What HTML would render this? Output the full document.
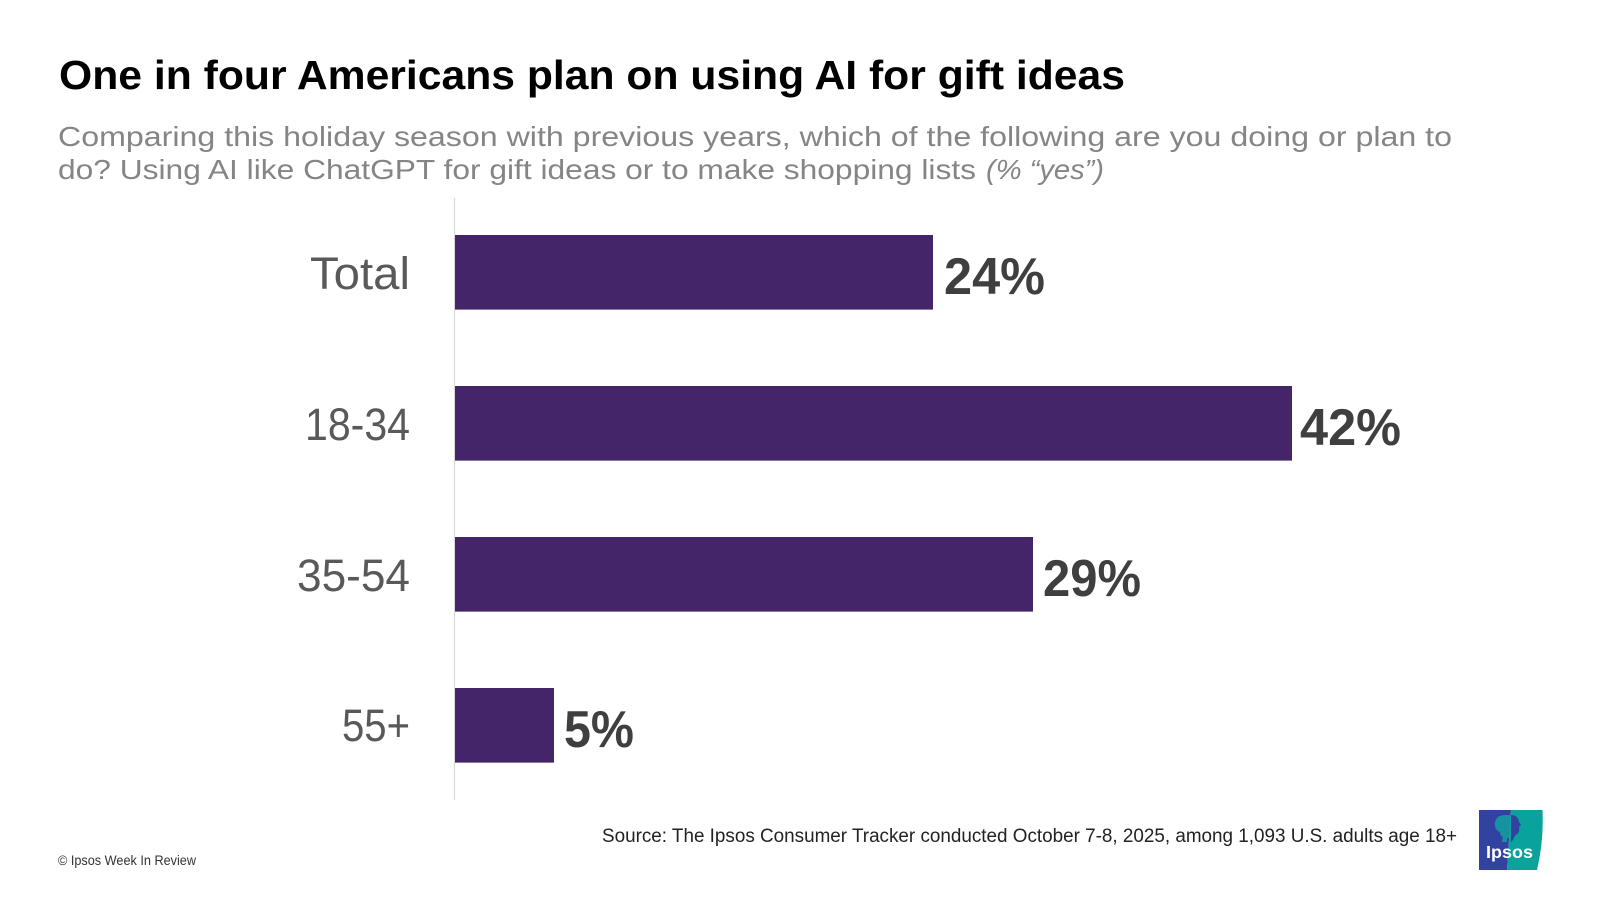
<!DOCTYPE html>
<html>
<head>
<meta charset="utf-8">
<style>
  html, body { margin: 0; padding: 0; background: #ffffff; }
  body { width: 1600px; height: 900px; overflow: hidden; }
  svg { display: block; }
  text { font-family: "Liberation Sans", "DejaVu Sans", sans-serif; }
</style>
</head>
<body>
<svg width="1600" height="900" viewBox="0 0 1600 900" xmlns="http://www.w3.org/2000/svg">
  <rect x="0" y="0" width="1600" height="900" fill="#ffffff"/>

  <!-- Title -->
  <text x="59" y="89" font-size="41" font-weight="bold" fill="#000000" textLength="1066" lengthAdjust="spacingAndGlyphs">One in four Americans plan on using AI for gift ideas</text>

  <!-- Subtitle -->
  <text x="58" y="146" font-size="28" fill="#858585" textLength="1394" lengthAdjust="spacingAndGlyphs">Comparing this holiday season with previous years, which of the following are you doing or plan to</text>
  <text x="58" y="179" font-size="28" fill="#858585" textLength="918" lengthAdjust="spacingAndGlyphs">do? Using AI like ChatGPT for gift ideas or to make shopping lists</text>
  <text x="986" y="179" font-size="28" font-style="italic" fill="#858585" textLength="118" lengthAdjust="spacingAndGlyphs">(% “yes”)</text>

  <!-- Axis line -->
  <line x1="454.5" y1="198" x2="454.5" y2="800" stroke="#d9d9d9" stroke-width="1.2"/>

  <!-- Bars -->
  <rect x="455" y="235" width="478" height="75" fill="#45256a"/>
  <rect x="455" y="309" width="478" height="1" fill="#8a7ba3"/>
  <rect x="455" y="386" width="837" height="75" fill="#45256a"/>
  <rect x="455" y="460" width="837" height="1" fill="#8a7ba3"/>
  <rect x="455" y="537" width="578" height="75" fill="#45256a"/>
  <rect x="455" y="611" width="578" height="1" fill="#8a7ba3"/>
  <rect x="455" y="688" width="99" height="75" fill="#45256a"/>
  <rect x="455" y="762" width="99" height="1" fill="#8a7ba3"/>

  <!-- Category labels -->
  <text x="410" y="289" font-size="45" fill="#595959" text-anchor="end" textLength="100" lengthAdjust="spacingAndGlyphs">Total</text>
  <text x="410" y="440" font-size="45" fill="#595959" text-anchor="end" textLength="105" lengthAdjust="spacingAndGlyphs">18-34</text>
  <text x="410" y="591" font-size="45" fill="#595959" text-anchor="end" textLength="113" lengthAdjust="spacingAndGlyphs">35-54</text>
  <text x="410" y="741" font-size="45" fill="#595959" text-anchor="end" textLength="68" lengthAdjust="spacingAndGlyphs">55+</text>

  <!-- Value labels -->
  <text x="944" y="294" font-size="52" font-weight="bold" fill="#3f3f3f" textLength="101" lengthAdjust="spacingAndGlyphs">24%</text>
  <text x="1300" y="445" font-size="52" font-weight="bold" fill="#3f3f3f" textLength="101" lengthAdjust="spacingAndGlyphs">42%</text>
  <text x="1043" y="596" font-size="52" font-weight="bold" fill="#3f3f3f" textLength="98" lengthAdjust="spacingAndGlyphs">29%</text>
  <text x="564" y="747" font-size="52" font-weight="bold" fill="#3f3f3f" textLength="70" lengthAdjust="spacingAndGlyphs">5%</text>

  <!-- Source -->
  <text x="602" y="842" font-size="19" fill="#222222" textLength="855" lengthAdjust="spacingAndGlyphs">Source: The Ipsos Consumer Tracker conducted  October 7-8, 2025, among 1,093 U.S. adults age 18+</text>

  <!-- Footer -->
  <text x="58" y="865" font-size="14" fill="#333333" textLength="138" lengthAdjust="spacingAndGlyphs">© Ipsos Week In Review</text>

  <!-- Ipsos logo -->
  <g>
    <path d="M1479 810 L1511 810 L1507 870 L1479 870 Z" fill="#3142a0"/>
    <path d="M1511 810 L1542.5 810 Q1544 840 1537 870 L1507 870 Z" fill="#0aa39c"/>
    <path d="M1500 832 Q1494 830 1495 822 Q1497 815 1505 815 L1511 815 L1511 838 L1507 838 L1507 842 L1502 842 L1503 837 Q1500 836 1500 832 Z" fill="#13a0a0" opacity="0.85"/>
    <path d="M1511 815 Q1518 815 1519 822 L1521 825 L1519 827 Q1520 832 1517 834 Q1514 836 1513 840 L1511 842 Z" fill="#3142a0"/>
    <text x="1486" y="858" font-size="17.5" font-weight="bold" fill="#ffffff" textLength="47" lengthAdjust="spacingAndGlyphs">Ipsos</text>
  </g>
</svg>
</body>
</html>
